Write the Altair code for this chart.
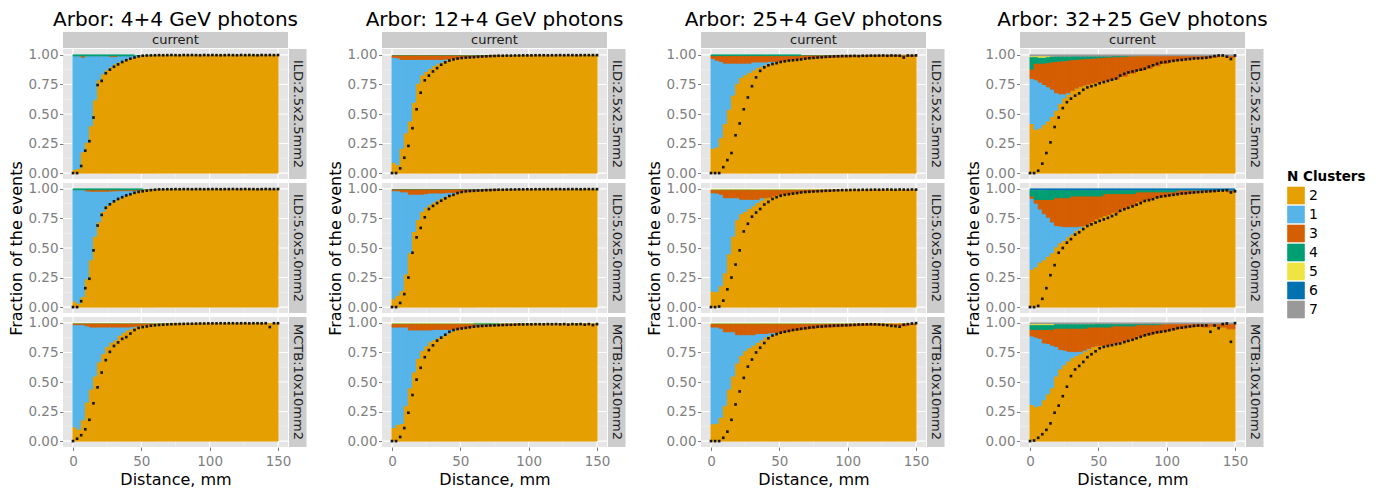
import altair as alt
import pandas as pd

# ---------------------------------------------------------------- layout data
BIN_EDGES = [0, 3, 6, 9, 12, 15, 18, 21, 24, 27, 30, 33, 36, 39, 42, 45, 48, 51, 54, 57, 60,
             66, 72, 78, 84, 90, 96, 102, 108, 114, 120, 126, 132, 138, 144, 150]
DOT_X = [0, 3, 6, 9, 12, 15, 18, 21, 24, 27, 30, 33, 36, 39, 42, 45, 48, 51, 54, 57, 60,
         63, 66, 69, 72, 75, 78, 81, 84, 87, 90, 93, 96, 99, 102, 105, 108, 111, 114, 117, 120,
         123, 126, 129, 132, 135, 138, 141, 144, 147, 150]

CATEGORIES = ["2", "1", "3", "4", "5", "6", "7"]
COLORS = ["#E69F00", "#56B4E9", "#D55E00", "#009E73", "#F0E442", "#0072B2", "#999999"]
PANEL_TITLES = ["Arbor: 4+4 GeV photons", "Arbor: 12+4 GeV photons",
                "Arbor: 25+4 GeV photons", "Arbor: 32+25 GeV photons"]
ROW_LABELS = ["ILD:2.5x2.5mm2", "ILD:5.0x5.0mm2", "MCTB:10x10mm2"]
X_TICKS = [0, 50, 100, 150]
Y_TICKS = [0, 0.25, 0.5, 0.75, 1.0]

# ---------------------------------------------------------------- read values
# upper edge of each stacked class (cumulative fraction) per distance bin;
# the last class of each facet fills the stack up to 1.

# 4+4 GeV
e44_a_2 = [0.03, 0.04, 0.18, 0.26, 0.40, 0.62, 0.79, 0.84, 0.875, 0.90, 0.925, 0.94, 0.955, 0.967, 0.978, 0.985, 0.99, 0.993, 0.995, 0.995,
           0.996, 0.996, 0.996, 0.997, 0.997, 0.997, 0.997, 0.997, 0.997, 0.997, 0.997, 0.997, 0.997, 0.997, 0.997]
e44_a_1 = [0.99, 0.99, 0.98, 0.99, 0.99, 0.99, 0.99, 0.99, 0.99, 0.985, 0.985, 0.99, 0.99, 0.99, 0.992, 0.993, 0.995, 0.995, 0.996, 0.996,
           0.996, 0.996, 0.996, 0.997, 0.997, 0.997, 0.997, 0.997, 0.997, 0.997, 0.997, 0.997, 0.997, 0.997, 0.997]
e44_a_3 = [0.992, 0.992, 0.992, 0.992, 0.992, 0.992, 0.992, 0.992, 0.992, 0.992, 0.992, 0.992, 0.992, 0.992, 0.994, 0.995, 0.996, 0.996, 0.997, 0.997,
           0.997, 0.997, 0.997, 0.998, 0.998, 0.998, 0.998, 0.998, 0.998, 0.998, 0.998, 0.998, 0.998, 0.998, 0.998]
e44_a_dots = [0, 0, 0.06, 0.19, 0.27, 0.47, 0.745, 0.78, 0.845, 0.875, 0.90, 0.92, 0.94, 0.955, 0.968, 0.978, 0.988, 0.993, 0.995, 0.996, 0.997,
              0.998, 0.997, 0.998, 0.999, 0.998, 0.997, 0.999, 0.998, 0.999, 0.998, 0.997, 0.999, 0.998, 0.999, 0.998, 0.997, 0.998, 0.999, 0.998, 0.997,
              0.999, 0.998, 0.999, 0.998, 0.997, 0.999, 0.998, 0.999, 0.998, 0.999]

e44_b_2 = [0.05, 0.03, 0.09, 0.24, 0.40, 0.60, 0.72, 0.81, 0.86, 0.885, 0.905, 0.925, 0.94, 0.95, 0.965, 0.978, 0.986, 0.99, 0.993, 0.995,
           0.996, 0.996, 0.996, 0.997, 0.997, 0.997, 0.997, 0.997, 0.997, 0.997, 0.997, 0.997, 0.997, 0.997, 0.997]
e44_b_1 = [0.99, 0.99, 0.99, 0.983, 0.98, 0.98, 0.98, 0.98, 0.98, 0.982, 0.983, 0.985, 0.985, 0.985, 0.985, 0.986, 0.988, 0.99, 0.993, 0.995,
           0.996, 0.996, 0.996, 0.997, 0.997, 0.997, 0.997, 0.997, 0.997, 0.997, 0.997, 0.997, 0.997, 0.997, 0.997]
e44_b_3 = [0.993, 0.993, 0.993, 0.993, 0.993, 0.993, 0.993, 0.993, 0.993, 0.993, 0.993, 0.993, 0.993, 0.993, 0.993, 0.993, 0.994, 0.995, 0.996, 0.997,
           0.997, 0.997, 0.998, 0.998, 0.998, 0.998, 0.998, 0.998, 0.998, 0.998, 0.998, 0.998, 0.998, 0.998, 0.998]
e44_b_dots = [0, 0, 0.05, 0.16, 0.24, 0.48, 0.69, 0.78, 0.84, 0.87, 0.895, 0.915, 0.93, 0.945, 0.955, 0.967, 0.975, 0.98, 0.985, 0.99, 0.993,
              0.996, 0.996, 0.997, 0.997, 0.998, 0.997, 0.998, 0.998, 0.997, 0.998, 0.998, 0.997, 0.998, 0.998, 0.998, 0.997, 0.998, 0.998, 0.999, 0.998,
              0.998, 0.999, 0.998, 0.998, 0.997, 0.998, 0.999, 0.998, 0.998, 0.999]

e44_c_2 = [0.12, 0.10, 0.18, 0.33, 0.44, 0.55, 0.67, 0.74, 0.80, 0.835, 0.855, 0.895, 0.92, 0.94, 0.955, 0.965, 0.975, 0.98, 0.983, 0.986,
           0.99, 0.992, 0.995, 0.995, 0.995, 0.996, 0.996, 0.996, 0.996, 0.996, 0.996, 0.996, 0.996, 0.996, 0.996]
e44_c_1 = [0.985, 0.985, 0.985, 0.975, 0.965, 0.965, 0.965, 0.965, 0.965, 0.965, 0.965, 0.965, 0.965, 0.965, 0.968, 0.972, 0.978, 0.982, 0.985, 0.987,
           0.99, 0.992, 0.995, 0.995, 0.995, 0.996, 0.996, 0.996, 0.996, 0.996, 0.996, 0.996, 0.996, 0.996, 0.996]
e44_c_3 = [0.993, 0.993, 0.993, 0.993, 0.993, 0.993, 0.993, 0.993, 0.993, 0.993, 0.993, 0.993, 0.993, 0.993, 0.993, 0.993, 0.993, 0.993, 0.993, 0.993,
           0.994, 0.995, 0.996, 0.997, 0.997, 0.997, 0.997, 0.997, 0.997, 0.997, 0.997, 0.997, 0.997, 0.997, 0.997]
e44_c_4 = [0.997, 0.997, 0.997, 0.997, 0.997, 0.997, 0.997, 0.997, 0.997, 0.997, 0.997, 0.997, 0.997, 0.997, 0.997, 0.997, 0.997, 0.997, 0.997, 0.997,
           0.998, 0.998, 0.998, 0.998, 0.998, 0.998, 0.998, 0.998, 0.998, 0.998, 0.998, 0.998, 0.998, 0.998, 0.998]
e44_c_dots = [0, 0.02, 0.05, 0.1, 0.18, 0.32, 0.455, 0.58, 0.685, 0.755, 0.805, 0.835, 0.865, 0.88, 0.91, 0.94, 0.958, 0.965, 0.97, 0.976, 0.98,
              0.983, 0.985, 0.987, 0.989, 0.99, 0.991, 0.992, 0.993, 0.993, 0.994, 0.995, 0.995, 0.996, 0.996, 0.996, 0.997, 0.996, 0.997, 0.997, 0.996,
              0.997, 0.997, 0.996, 0.997, 0.997, 0.996, 0.997, 0.965, 0.997, 0.997]

# 12+4 GeV
e124_a_2 = [0.09, 0.07, 0.21, 0.34, 0.44, 0.60, 0.76, 0.83, 0.86, 0.885, 0.91, 0.93, 0.94, 0.955, 0.965, 0.97, 0.973, 0.976, 0.979, 0.982,
            0.985, 0.988, 0.99, 0.992, 0.994, 0.995, 0.995, 0.996, 0.996, 0.996, 0.996, 0.996, 0.996, 0.996, 0.996]
e124_a_1 = [0.98, 0.975, 0.962, 0.962, 0.962, 0.962, 0.962, 0.962, 0.962, 0.962, 0.962, 0.962, 0.962, 0.965, 0.968, 0.971, 0.973, 0.976, 0.979, 0.982,
            0.985, 0.988, 0.99, 0.992, 0.994, 0.995, 0.995, 0.996, 0.996, 0.996, 0.996, 0.996, 0.996, 0.996, 0.996]
e124_a_3 = [0.995, 0.995, 0.995, 0.995, 0.995, 0.995, 0.995, 0.995, 0.995, 0.995, 0.995, 0.995, 0.995, 0.995, 0.995, 0.995, 0.995, 0.995, 0.995, 0.995,
            0.995, 0.995, 0.996, 0.997, 0.997, 0.997, 0.998, 0.998, 0.998, 0.998, 0.998, 0.998, 0.998, 0.998, 0.998]
e124_a_dots = [0, 0, 0.04, 0.13, 0.23, 0.38, 0.54, 0.68, 0.785, 0.825, 0.86, 0.888, 0.917, 0.937, 0.952, 0.962, 0.969, 0.974, 0.977, 0.979, 0.981,
               0.984, 0.986, 0.988, 0.99, 0.991, 0.993, 0.993, 0.994, 0.994, 0.995, 0.995, 0.996, 0.996, 0.996, 0.997, 0.997, 0.997, 0.996, 0.997, 0.997,
               0.998, 0.997, 0.998, 0.998, 0.997, 0.998, 0.998, 0.998, 0.998, 0.998]

e124_b_2 = [0.07, 0.10, 0.14, 0.28, 0.46, 0.64, 0.74, 0.81, 0.845, 0.87, 0.89, 0.91, 0.925, 0.94, 0.952, 0.96, 0.968, 0.975, 0.978, 0.98,
            0.984, 0.988, 0.99, 0.993, 0.994, 0.995, 0.995, 0.996, 0.996, 0.996, 0.996, 0.996, 0.996, 0.996, 0.996]
e124_b_1 = [0.985, 0.985, 0.975, 0.975, 0.955, 0.955, 0.955, 0.955, 0.96, 0.965, 0.965, 0.965, 0.965, 0.968, 0.97, 0.97, 0.972, 0.976, 0.978, 0.98,
            0.984, 0.988, 0.99, 0.993, 0.994, 0.995, 0.995, 0.996, 0.996, 0.996, 0.996, 0.996, 0.996, 0.996, 0.996]
e124_b_3 = [0.995, 0.995, 0.995, 0.995, 0.995, 0.995, 0.995, 0.995, 0.995, 0.995, 0.995, 0.995, 0.995, 0.995, 0.995, 0.995, 0.995, 0.995, 0.995, 0.995,
            0.995, 0.996, 0.996, 0.997, 0.997, 0.997, 0.998, 0.998, 0.998, 0.998, 0.998, 0.998, 0.998, 0.998, 0.998]
e124_b_dots = [0, 0, 0.035, 0.11, 0.25, 0.46, 0.59, 0.67, 0.76, 0.83, 0.856, 0.88, 0.9, 0.92, 0.94, 0.95, 0.965, 0.974, 0.979, 0.982, 0.984,
               0.986, 0.987, 0.989, 0.99, 0.992, 0.993, 0.993, 0.994, 0.995, 0.995, 0.996, 0.996, 0.997, 0.996, 0.997, 0.997, 0.997, 0.998, 0.997, 0.998,
               0.998, 0.997, 0.998, 0.998, 0.998, 0.997, 0.998, 0.998, 0.998, 0.998]

e124_c_2 = [0.115, 0.14, 0.15, 0.30, 0.45, 0.585, 0.70, 0.765, 0.805, 0.84, 0.86, 0.875, 0.89, 0.905, 0.925, 0.94, 0.95, 0.956, 0.96, 0.965,
            0.97, 0.975, 0.978, 0.98, 0.983, 0.985, 0.988, 0.988, 0.99, 0.99, 0.99, 0.99, 0.99, 0.99, 0.99]
e124_c_1 = [0.965, 0.965, 0.965, 0.965, 0.94, 0.94, 0.94, 0.94, 0.94, 0.94, 0.945, 0.945, 0.945, 0.945, 0.945, 0.948, 0.952, 0.956, 0.96, 0.965,
            0.97, 0.975, 0.978, 0.98, 0.983, 0.985, 0.988, 0.988, 0.99, 0.99, 0.99, 0.99, 0.99, 0.99, 0.99]
e124_c_3 = [0.99, 0.99, 0.99, 0.99, 0.99, 0.99, 0.99, 0.99, 0.99, 0.99, 0.99, 0.99, 0.99, 0.99, 0.99, 0.99, 0.99, 0.99, 0.99, 0.99,
            0.99, 0.99, 0.99, 0.991, 0.992, 0.992, 0.993, 0.993, 0.994, 0.994, 0.994, 0.994, 0.994, 0.994, 0.994]
e124_c_4 = [0.995, 0.995, 0.995, 0.995, 0.995, 0.995, 0.995, 0.995, 0.995, 0.995, 0.995, 0.995, 0.995, 0.995, 0.995, 0.995, 0.995, 0.995, 0.995, 0.995,
            0.996, 0.996, 0.996, 0.996, 0.996, 0.996, 0.996, 0.996, 0.996, 0.996, 0.996, 0.996, 0.996, 0.996, 0.996]
e124_c_dots = [0, 0, 0.035, 0.11, 0.24, 0.39, 0.52, 0.62, 0.71, 0.77, 0.81, 0.85, 0.875, 0.9, 0.925, 0.94, 0.948, 0.953, 0.958, 0.963, 0.968,
               0.971, 0.974, 0.976, 0.978, 0.979, 0.98, 0.982, 0.983, 0.984, 0.985, 0.987, 0.987, 0.988, 0.988, 0.989, 0.989, 0.988, 0.99, 0.989, 0.99,
               0.988, 0.99, 0.985, 0.99, 0.988, 0.99, 0.985, 0.99, 0.982, 0.99]

# 25+4 GeV
e254_a_2 = [0.21, 0.22, 0.30, 0.42, 0.54, 0.66, 0.76, 0.81, 0.832, 0.852, 0.872, 0.893, 0.905, 0.918, 0.93, 0.938, 0.943, 0.948, 0.954, 0.958,
            0.964, 0.969, 0.973, 0.977, 0.98, 0.982, 0.984, 0.986, 0.988, 0.989, 0.99, 0.99, 0.99, 0.985, 0.99]
e254_a_1 = [0.97, 0.955, 0.945, 0.93, 0.93, 0.93, 0.93, 0.93, 0.93, 0.93, 0.94, 0.94, 0.94, 0.94, 0.945, 0.945, 0.945, 0.948, 0.954, 0.958,
            0.964, 0.969, 0.973, 0.977, 0.98, 0.982, 0.984, 0.986, 0.988, 0.989, 0.99, 0.99, 0.99, 0.985, 0.99]
e254_a_3 = [0.994, 0.994, 0.994, 0.994, 0.994, 0.994, 0.994, 0.994, 0.994, 0.994, 0.994, 0.994, 0.994, 0.994, 0.994, 0.994, 0.994, 0.994, 0.994, 0.994,
            0.994, 0.995, 0.995, 0.995, 0.996, 0.996, 0.996, 0.996, 0.996, 0.997, 0.997, 0.997, 0.997, 0.997, 0.997]
e254_a_dots = [0, 0, 0, 0.05, 0.11, 0.17, 0.32, 0.42, 0.54, 0.64, 0.735, 0.81, 0.865, 0.895, 0.912, 0.923, 0.93, 0.94, 0.946, 0.952, 0.955,
               0.958, 0.962, 0.968, 0.972, 0.975, 0.978, 0.98, 0.983, 0.985, 0.987, 0.988, 0.99, 0.99, 0.991, 0.992, 0.99, 0.993, 0.992, 0.994, 0.993,
               0.994, 0.995, 0.993, 0.995, 0.994, 0.993, 0.978, 0.995, 0.994, 0.996]

e254_b_2 = [0.135, 0.13, 0.18, 0.29, 0.45, 0.6, 0.74, 0.79, 0.81, 0.835, 0.858, 0.885, 0.905, 0.92, 0.93, 0.94, 0.948, 0.955, 0.96, 0.963,
            0.968, 0.974, 0.978, 0.981, 0.984, 0.987, 0.99, 0.99, 0.99, 0.99, 0.99, 0.99, 0.99, 0.99, 0.99]
e254_b_1 = [0.967, 0.965, 0.955, 0.925, 0.925, 0.925, 0.925, 0.912, 0.912, 0.912, 0.912, 0.912, 0.925, 0.925, 0.93, 0.94, 0.948, 0.955, 0.96, 0.963,
            0.968, 0.974, 0.978, 0.981, 0.984, 0.987, 0.99, 0.99, 0.99, 0.99, 0.99, 0.99, 0.99, 0.99, 0.99]
e254_b_3 = [0.99, 0.99, 0.99, 0.99, 0.99, 0.99, 0.99, 0.99, 0.99, 0.99, 0.99, 0.99, 0.99, 0.99, 0.99, 0.99, 0.99, 0.99, 0.99, 0.99,
            0.99, 0.991, 0.992, 0.993, 0.993, 0.994, 0.994, 0.994, 0.994, 0.994, 0.994, 0.994, 0.994, 0.994, 0.994]
e254_b_4 = [0.995, 0.995, 0.995, 0.995, 0.995, 0.995, 0.995, 0.995, 0.995, 0.995, 0.995, 0.995, 0.995, 0.995, 0.995, 0.995, 0.995, 0.995, 0.995, 0.995,
            0.995, 0.995, 0.995, 0.995, 0.995, 0.995, 0.995, 0.995, 0.995, 0.995, 0.995, 0.995, 0.995, 0.995, 0.995]
e254_b_dots = [0, 0, 0.005, 0.055, 0.15, 0.25, 0.36, 0.48, 0.64, 0.705, 0.765, 0.8, 0.83, 0.868, 0.89, 0.915, 0.93, 0.942, 0.95, 0.955, 0.96,
               0.965, 0.97, 0.974, 0.976, 0.978, 0.98, 0.982, 0.984, 0.985, 0.987, 0.988, 0.99, 0.99, 0.991, 0.992, 0.991, 0.993, 0.992, 0.993, 0.994,
               0.993, 0.994, 0.995, 0.994, 0.993, 0.995, 0.994, 0.993, 0.995, 0.994]

e254_c_2 = [0.145, 0.15, 0.2, 0.3, 0.44, 0.55, 0.66, 0.725, 0.765, 0.79, 0.812, 0.835, 0.857, 0.88, 0.895, 0.905, 0.913, 0.922, 0.928, 0.932,
            0.94, 0.948, 0.955, 0.96, 0.964, 0.968, 0.972, 0.975, 0.978, 0.98, 0.982, 0.983, 0.982, 0.975, 0.985]
e254_c_1 = [0.965, 0.965, 0.955, 0.925, 0.925, 0.925, 0.9, 0.9, 0.9, 0.9, 0.9, 0.91, 0.91, 0.91, 0.915, 0.918, 0.918, 0.922, 0.928, 0.932,
            0.94, 0.948, 0.955, 0.96, 0.964, 0.968, 0.972, 0.975, 0.978, 0.98, 0.982, 0.983, 0.982, 0.975, 0.985]
e254_c_3 = [0.99, 0.99, 0.99, 0.99, 0.99, 0.99, 0.99, 0.99, 0.99, 0.99, 0.99, 0.99, 0.99, 0.99, 0.99, 0.99, 0.99, 0.99, 0.99, 0.99,
            0.99, 0.99, 0.99, 0.99, 0.99, 0.991, 0.991, 0.992, 0.992, 0.993, 0.993, 0.993, 0.993, 0.993, 0.993]
e254_c_4 = [0.995, 0.995, 0.995, 0.995, 0.995, 0.995, 0.995, 0.995, 0.995, 0.995, 0.995, 0.995, 0.995, 0.995, 0.995, 0.995, 0.995, 0.995, 0.995, 0.995,
            0.995, 0.995, 0.995, 0.995, 0.995, 0.995, 0.995, 0.995, 0.995, 0.995, 0.995, 0.995, 0.995, 0.995, 0.995]
e254_c_dots = [0, 0, 0, 0.028, 0.08, 0.18, 0.31, 0.42, 0.535, 0.63, 0.69, 0.75, 0.79, 0.83, 0.87, 0.893, 0.905, 0.917, 0.925, 0.932, 0.94,
               0.945, 0.95, 0.955, 0.96, 0.964, 0.968, 0.97, 0.973, 0.975, 0.977, 0.978, 0.98, 0.981, 0.982, 0.984, 0.986, 0.987, 0.988, 0.989, 0.988,
               0.986, 0.983, 0.98, 0.975, 0.972, 0.968, 0.985, 0.99, 0.995, 0.998]

# 32+25 GeV
e3225_a_2 = [0.42, 0.37, 0.38, 0.41, 0.44, 0.48, 0.53, 0.59, 0.635, 0.665, 0.695, 0.715, 0.73, 0.742, 0.752, 0.762, 0.77, 0.778, 0.784, 0.788,
             0.797, 0.82, 0.846, 0.868, 0.885, 0.908, 0.93, 0.95, 0.957, 0.965, 0.97, 0.974, 0.98, 0.988, 0.98]
e3225_a_1 = [0.8, 0.79, 0.77, 0.75, 0.73, 0.71, 0.68, 0.67, 0.67, 0.68, 0.7, 0.72, 0.735, 0.745, 0.752, 0.762, 0.77, 0.778, 0.784, 0.788,
             0.797, 0.82, 0.846, 0.868, 0.885, 0.908, 0.93, 0.95, 0.957, 0.965, 0.97, 0.974, 0.98, 0.988, 0.98]
e3225_a_3 = [0.88, 0.93, 0.93, 0.93, 0.935, 0.94, 0.945, 0.948, 0.95, 0.955, 0.96, 0.962, 0.965, 0.968, 0.97, 0.972, 0.975, 0.977, 0.98, 0.982,
             0.984, 0.986, 0.988, 0.99, 0.991, 0.992, 0.993, 0.993, 0.993, 0.993, 0.993, 0.993, 0.993, 0.993, 0.993]
e3225_a_4 = [0.985, 0.985, 0.98, 0.98, 0.985, 0.985, 0.988, 0.988, 0.988, 0.988, 0.99, 0.99, 0.99, 0.99, 0.99, 0.99, 0.99, 0.99, 0.99, 0.99,
             0.993, 0.993, 0.993, 0.993, 0.993, 0.993, 0.993, 0.993, 0.993, 0.993, 0.993, 0.993, 0.993, 0.993, 0.993]
e3225_a_5 = [0.993, 0.993, 0.992, 0.992, 0.992, 0.99, 0.99, 0.99, 0.99, 0.99, 0.99, 0.99, 0.99, 0.99, 0.99, 0.99, 0.99, 0.99, 0.99, 0.99,
             0.993, 0.993, 0.993, 0.993, 0.993, 0.993, 0.993, 0.993, 0.993, 0.993, 0.993, 0.993, 0.993, 0.993, 0.993]
e3225_a_dots = [0, 0, 0.02, 0.08, 0.17, 0.26, 0.39, 0.47, 0.55, 0.6, 0.63, 0.655, 0.675, 0.705, 0.725, 0.735, 0.745, 0.76, 0.77, 0.78, 0.79,
                0.8, 0.825, 0.84, 0.852, 0.86, 0.868, 0.875, 0.883, 0.9, 0.912, 0.925, 0.936, 0.94, 0.945, 0.95, 0.955, 0.958, 0.962, 0.965, 0.97,
                0.971, 0.973, 0.976, 0.982, 0.99, 0.995, 0.995, 0.985, 0.965, 0.995]

e3225_b_2 = [0.32, 0.34, 0.38, 0.4, 0.43, 0.46, 0.51, 0.545, 0.565, 0.595, 0.62, 0.65, 0.668, 0.685, 0.702, 0.725, 0.745, 0.76, 0.775, 0.785,
             0.802, 0.835, 0.86, 0.893, 0.91, 0.928, 0.94, 0.951, 0.957, 0.962, 0.972, 0.977, 0.98, 0.984, 0.975]
e3225_b_1 = [0.92, 0.88, 0.83, 0.79, 0.76, 0.72, 0.69, 0.685, 0.68, 0.68, 0.68, 0.68, 0.685, 0.69, 0.705, 0.725, 0.745, 0.76, 0.775, 0.785,
             0.802, 0.835, 0.86, 0.893, 0.91, 0.928, 0.94, 0.951, 0.957, 0.962, 0.972, 0.977, 0.98, 0.984, 0.975]
e3225_b_3 = [0.94, 0.91, 0.91, 0.91, 0.91, 0.91, 0.925, 0.925, 0.925, 0.925, 0.94, 0.94, 0.94, 0.94, 0.94, 0.94, 0.94, 0.94, 0.96, 0.96,
             0.96, 0.96, 0.96, 0.975, 0.975, 0.975, 0.975, 0.975, 0.986, 0.986, 0.986, 0.986, 0.986, 0.986, 0.986]
e3225_b_4 = [0.99, 0.99, 0.99, 0.99, 0.99, 0.99, 0.99, 0.99, 0.99, 0.99, 0.99, 0.99, 0.99, 0.99, 0.99, 0.99, 0.99, 0.99, 0.99, 0.99,
             0.99, 0.99, 0.99, 0.99, 0.99, 0.99, 0.99, 0.99, 0.99, 0.99, 0.99, 0.99, 0.99, 0.99, 0.99]
e3225_b_5 = [0.994, 0.994, 0.994, 0.993, 0.992, 0.992, 0.992, 0.992, 0.992, 0.992, 0.992, 0.992, 0.992, 0.992, 0.992, 0.992, 0.992, 0.992, 0.992, 0.992,
             0.992, 0.992, 0.992, 0.992, 0.992, 0.992, 0.992, 0.992, 0.992, 0.992, 0.992, 0.992, 0.992, 0.992, 0.992]
e3225_b_dots = [0, 0, 0.01, 0.07, 0.16, 0.27, 0.355, 0.46, 0.5, 0.545, 0.575, 0.613, 0.633, 0.66, 0.686, 0.7, 0.715, 0.73, 0.742, 0.755, 0.77,
                0.785, 0.815, 0.828, 0.84, 0.852, 0.866, 0.88, 0.898, 0.905, 0.913, 0.928, 0.935, 0.94, 0.945, 0.95, 0.955, 0.961, 0.963, 0.967, 0.97,
                0.973, 0.975, 0.978, 0.98, 0.982, 0.985, 0.986, 0.989, 0.97, 0.98]

e3225_c_2 = [0.31, 0.29, 0.3, 0.35, 0.4, 0.45, 0.55, 0.61, 0.645, 0.677, 0.705, 0.725, 0.74, 0.76, 0.778, 0.795, 0.804, 0.808, 0.811, 0.816,
             0.828, 0.845, 0.865, 0.888, 0.9, 0.915, 0.93, 0.943, 0.955, 0.965, 0.972, 0.965, 0.972, 0.965, 0.95]
e3225_c_1 = [0.89, 0.88, 0.868, 0.83, 0.826, 0.81, 0.8, 0.775, 0.77, 0.76, 0.757, 0.757, 0.76, 0.77, 0.785, 0.8, 0.806, 0.808, 0.811, 0.816,
             0.828, 0.845, 0.865, 0.888, 0.9, 0.915, 0.93, 0.943, 0.955, 0.965, 0.972, 0.965, 0.972, 0.965, 0.95]
e3225_c_3 = [0.945, 0.945, 0.945, 0.945, 0.945, 0.945, 0.955, 0.955, 0.955, 0.955, 0.955, 0.955, 0.955, 0.955, 0.965, 0.965, 0.965, 0.965, 0.965, 0.965,
             0.975, 0.975, 0.975, 0.985, 0.985, 0.985, 0.99, 0.992, 0.993, 0.993, 0.993, 0.993, 0.993, 0.993, 0.993]
e3225_c_4 = [0.985, 0.985, 0.985, 0.985, 0.985, 0.985, 0.99, 0.99, 0.99, 0.99, 0.99, 0.99, 0.99, 0.99, 0.99, 0.99, 0.993, 0.993, 0.993, 0.993,
             0.993, 0.993, 0.993, 0.993, 0.993, 0.993, 0.993, 0.993, 0.993, 0.993, 0.993, 0.993, 0.993, 0.993, 0.993]
e3225_c_5 = [0.994, 0.994, 0.994, 0.994, 0.994, 0.994, 0.993, 0.993, 0.993, 0.993, 0.993, 0.993, 0.993, 0.993, 0.993, 0.993, 0.993, 0.993, 0.993, 0.993,
             0.993, 0.993, 0.993, 0.993, 0.993, 0.993, 0.993, 0.993, 0.993, 0.993, 0.993, 0.993, 0.993, 0.993, 0.993]
e3225_c_dots = [0, 0.005, 0.028, 0.058, 0.095, 0.15, 0.24, 0.3, 0.38, 0.46, 0.55, 0.606, 0.636, 0.67, 0.71, 0.735, 0.76, 0.785, 0.797, 0.805, 0.812,
                0.82, 0.826, 0.838, 0.848, 0.857, 0.87, 0.882, 0.895, 0.904, 0.913, 0.921, 0.925, 0.93, 0.938, 0.946, 0.956, 0.96, 0.965, 0.97, 0.975,
                0.978, 0.978, 0.979, 0.925, 0.978, 0.955, 0.99, 0.995, 0.84, 0.998]

# (panel, row) -> (stack tops in order, class filling to 1, dots)
FACETS = {
    (0, 0): ([("2", e44_a_2), ("1", e44_a_1), ("3", e44_a_3)], "4", e44_a_dots),
    (0, 1): ([("2", e44_b_2), ("1", e44_b_1), ("3", e44_b_3)], "4", e44_b_dots),
    (0, 2): ([("2", e44_c_2), ("1", e44_c_1), ("3", e44_c_3), ("4", e44_c_4)], "5", e44_c_dots),
    (1, 0): ([("2", e124_a_2), ("1", e124_a_1), ("3", e124_a_3)], "4", e124_a_dots),
    (1, 1): ([("2", e124_b_2), ("1", e124_b_1), ("3", e124_b_3)], "4", e124_b_dots),
    (1, 2): ([("2", e124_c_2), ("1", e124_c_1), ("3", e124_c_3), ("4", e124_c_4)], "5", e124_c_dots),
    (2, 0): ([("2", e254_a_2), ("1", e254_a_1), ("3", e254_a_3)], "4", e254_a_dots),
    (2, 1): ([("2", e254_b_2), ("1", e254_b_1), ("3", e254_b_3), ("4", e254_b_4)], "5", e254_b_dots),
    (2, 2): ([("2", e254_c_2), ("1", e254_c_1), ("3", e254_c_3), ("4", e254_c_4)], "5", e254_c_dots),
    (3, 0): ([("2", e3225_a_2), ("1", e3225_a_1), ("3", e3225_a_3), ("4", e3225_a_4), ("5", e3225_a_5)], "7", e3225_a_dots),
    (3, 1): ([("2", e3225_b_2), ("1", e3225_b_1), ("3", e3225_b_3), ("4", e3225_b_4), ("5", e3225_b_5)], "6", e3225_b_dots),
    (3, 2): ([("2", e3225_c_2), ("1", e3225_c_1), ("3", e3225_c_3), ("4", e3225_c_4), ("5", e3225_c_5)], "7", e3225_c_dots),
}

# ---------------------------------------------------------------- chart
W, H = 225, 130
FONT = "DejaVu Sans"
XS = alt.Scale(domain=[-7.3, 157.3], nice=False, zero=False)
YS = alt.Scale(domain=[-0.05, 1.05], nice=False, zero=False)
CS = alt.Scale(domain=CATEGORIES, range=COLORS)
LEGEND = alt.Legend(title="N Clusters", orient="none", legendX=1224, legendY=121,
                    symbolType="square", symbolSize=289, symbolStrokeColor="white",
                    symbolStrokeWidth=0.6, symbolOpacity=1,
                    titleFont=FONT, titleFontSize=13.5, titleFontWeight="bold", titleColor="black",
                    labelFont=FONT, labelFontSize=14, labelColor="black", labelOffset=4,
                    rowPadding=-2, titlePadding=3, padding=0)


def stack_frame(tops, last):
    rows = []
    for i in range(len(BIN_EDGES) - 1):
        lo = 0.0
        for cat, arr in tops:
            hi = max(arr[i], lo)
            if hi > lo:
                rows.append({"x": BIN_EDGES[i], "x2": BIN_EDGES[i + 1], "y": lo, "y2": hi, "cat": cat})
            lo = hi
        if lo < 1.0:
            rows.append({"x": BIN_EDGES[i], "x2": BIN_EDGES[i + 1], "y": lo, "y2": 1.0, "cat": last})
    return pd.DataFrame(rows)


def cell(p, r):
    tops, last, dots = FACETS[(p, r)]
    if r == 2:
        xa = alt.Axis(values=X_TICKS, title="Distance, mm", grid=False, domain=False,
                      labelPadding=4, titlePadding=3, tickSize=3.5)
    else:
        xa = None
    ykw = dict(values=Y_TICKS, format=".2f", grid=False, domain=False, labelPadding=1.5, tickSize=3.5)
    if r == 1:
        ya = alt.Axis(title="Fraction of the events", titlePadding=3, **ykw)
    else:
        ya = alt.Axis(title=None, **ykw)

    def X(f):
        return alt.X(f, type="quantitative", scale=XS, axis=xa)

    def Y(f):
        return alt.Y(f, type="quantitative", scale=YS, axis=ya)

    layers = [
        alt.Chart(pd.DataFrame({"v": [25, 75, 125]})).mark_rule(color="#F2F2F2", strokeWidth=0.6).encode(x=X("v")),
        alt.Chart(pd.DataFrame({"v": [0.125, 0.375, 0.625, 0.875]})).mark_rule(color="#F2F2F2", strokeWidth=0.6).encode(y=Y("v")),
        alt.Chart(pd.DataFrame({"v": X_TICKS})).mark_rule(color="white", strokeWidth=1.1).encode(x=X("v")),
        alt.Chart(pd.DataFrame({"v": Y_TICKS})).mark_rule(color="white", strokeWidth=1.1).encode(y=Y("v")),
        alt.Chart(stack_frame(tops, last)).mark_rect().encode(
            x=X("x"), x2=alt.X2("x2"), y=Y("y"), y2=alt.Y2("y2"),
            color=alt.Color("cat:N", scale=CS, legend=LEGEND),
            stroke=alt.Stroke("cat:N", scale=CS, legend=None),
            strokeWidth=alt.condition("datum.y2 - datum.y > 0.006", alt.value(1.0), alt.value(0))),
        alt.Chart(pd.DataFrame({"d": DOT_X, "f": dots})).mark_square(size=7, color="#151515", opacity=1).encode(
            x=X("d"), y=Y("f")),
        alt.Chart(pd.DataFrame({"t": [ROW_LABELS[r]]})).mark_rect(color="#CCCCCC").encode(
            x=alt.value(W + 1), x2=alt.value(W + 18.5), y=alt.value(0), y2=alt.value(H)),
        alt.Chart(pd.DataFrame({"t": [ROW_LABELS[r]]})).mark_text(
            angle=90, font=FONT, fontSize=13, color="#1A1A1A", align="center", baseline="middle").encode(
            x=alt.value(W + 9.8), y=alt.value(H / 2), text="t:N"),
    ]
    if r == 0:
        layers += [
            alt.Chart(pd.DataFrame({"t": ["current"]})).mark_rect(color="#CCCCCC").encode(
                x=alt.value(0), x2=alt.value(W), y=alt.value(-17), y2=alt.value(-1)),
            alt.Chart(pd.DataFrame({"t": ["current"]})).mark_text(
                font=FONT, fontSize=13, color="#1A1A1A", align="center", baseline="middle").encode(
                x=alt.value(W / 2), y=alt.value(-9), text="t:N"),
        ]
    ch = alt.layer(*layers).properties(width=W, height=H)
    if r == 0:
        ch = ch.properties(title=alt.TitleParams(PANEL_TITLES[p], font=FONT, fontSize=20, fontWeight="normal",
                                                 color="black", anchor="middle", frame="group", offset=2))
    return ch


cells = [cell(p, r) for r in range(3) for p in range(4)]

chart = alt.concat(*cells, columns=4, spacing={"row": 4, "column": 94}, bounds="flush").configure_view(
    fill="#E5E5E5", strokeWidth=0
).configure_axis(
    labelFont=FONT, labelFontSize=13.5, labelColor="#7F7F7F", tickColor="#7F7F7F", tickWidth=1,
    titleFont=FONT, titleFontSize=16, titleColor="black", titleFontWeight="normal"
).properties(
    padding={"left": 0, "top": 2, "right": 0, "bottom": 0}, background="white"
)

chart.save("out.html", embed_options={"renderer": "svg", "actions": False})
